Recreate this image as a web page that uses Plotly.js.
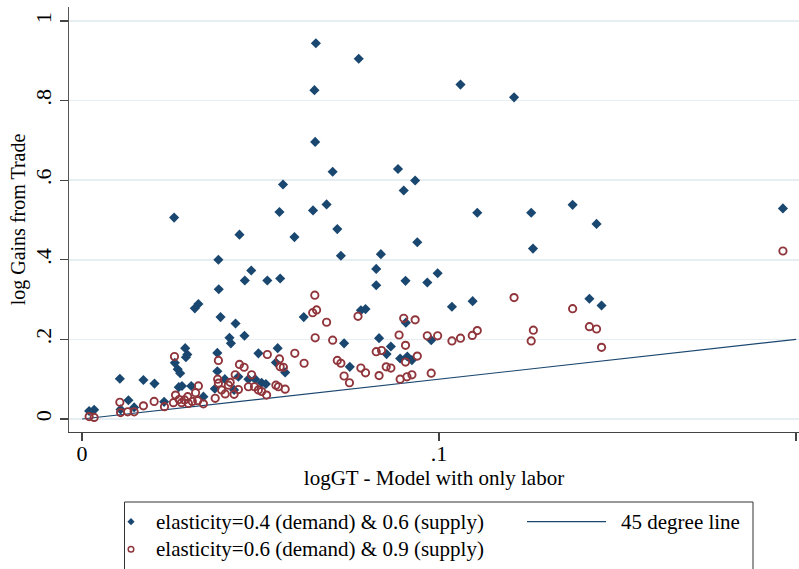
<!DOCTYPE html>
<html>
<head>
<meta charset="utf-8">
<script src="https://cdn.plot.ly/plotly-3.0.1.min.js"></script>
<style>html,body{margin:0;padding:0;background:#fff;}#chart{width:799px;height:569px;}</style>
</head>
<body>
<div id="chart"></div>
<script>
// elasticity=0.4 (demand) & 0.6 (supply)
const blueX = [0.0020,0.0034,0.0106,0.0108,0.0130,0.0146,0.0172,0.0203,0.0230,0.0258,0.0260,0.0268,0.0275,0.0271,0.0280,0.0289,0.0295,0.0291,0.0306,0.0316,0.0326,0.0340,0.0372,0.0379,0.0379,0.0382,0.0383,0.0388,0.0400,0.0413,0.0417,0.0426,0.0430,0.0438,0.0441,0.0455,0.0456,0.0466,0.0474,0.0485,0.0494,0.0503,0.0515,0.0519,0.0543,0.0548,0.0553,0.0555,0.0563,0.0569,0.0595,0.0621,0.0647,0.0651,0.0653,0.0655,0.0685,0.0702,0.0715,0.0725,0.0734,0.0750,0.0775,0.0781,0.0794,0.0824,0.0824,0.0832,0.0837,0.0853,0.0865,0.0885,0.0891,0.0901,0.0906,0.0907,0.0911,0.0924,0.0933,0.0939,0.0967,0.0978,0.0996,0.1036,0.1060,0.1094,0.1107,0.1210,0.1258,0.1263,0.1374,0.1421,0.1441,0.1455,0.1963];
const blueY = [0.020,0.023,0.101,0.024,0.047,0.029,0.098,0.089,0.043,0.506,0.141,0.125,0.115,0.080,0.083,0.178,0.162,0.155,0.083,0.278,0.289,0.056,0.076,0.166,0.120,0.400,0.326,0.256,0.100,0.204,0.190,0.073,0.240,0.106,0.463,0.209,0.348,0.100,0.373,0.100,0.165,0.091,0.088,0.348,0.142,0.178,0.520,0.353,0.589,0.117,0.457,0.256,0.524,0.826,0.696,0.944,0.539,0.621,0.477,0.410,0.190,0.131,0.905,0.273,0.276,0.377,0.336,0.203,0.414,0.163,0.182,0.628,0.152,0.574,0.347,0.242,0.157,0.148,0.599,0.444,0.343,0.198,0.366,0.282,0.840,0.296,0.518,0.808,0.518,0.428,0.538,0.302,0.490,0.285,0.529];

// elasticity=0.6 (demand) & 0.9 (supply)
const redX = [0.0020,0.0034,0.0106,0.0108,0.0128,0.0146,0.0172,0.0202,0.0231,0.0256,0.0259,0.0262,0.0272,0.0279,0.0287,0.0296,0.0298,0.0309,0.0318,0.0324,0.0326,0.0340,0.0373,0.0380,0.0382,0.0382,0.0391,0.0401,0.0410,0.0415,0.0426,0.0429,0.0438,0.0441,0.0454,0.0466,0.0475,0.0483,0.0494,0.0503,0.0517,0.0519,0.0543,0.0550,0.0553,0.0555,0.0564,0.0569,0.0596,0.0622,0.0646,0.0652,0.0653,0.0657,0.0685,0.0702,0.0715,0.0725,0.0734,0.0749,0.0773,0.0781,0.0794,0.0824,0.0832,0.0839,0.0852,0.0865,0.0888,0.0891,0.0901,0.0906,0.0906,0.0910,0.0924,0.0933,0.0939,0.0967,0.0978,0.0996,0.1036,0.1060,0.1093,0.1107,0.1210,0.1258,0.1264,0.1374,0.1421,0.1441,0.1455,0.1963];
const redY = [0.006,0.004,0.042,0.016,0.018,0.018,0.033,0.044,0.031,0.041,0.157,0.060,0.049,0.041,0.048,0.056,0.039,0.044,0.066,0.046,0.083,0.038,0.052,0.100,0.147,0.090,0.073,0.063,0.085,0.092,0.062,0.111,0.074,0.137,0.130,0.081,0.111,0.081,0.073,0.069,0.060,0.162,0.085,0.081,0.151,0.131,0.130,0.075,0.165,0.140,0.267,0.311,0.204,0.274,0.243,0.198,0.147,0.140,0.108,0.091,0.258,0.128,0.116,0.169,0.109,0.172,0.131,0.128,0.211,0.100,0.253,0.185,0.143,0.106,0.111,0.249,0.158,0.209,0.115,0.209,0.196,0.203,0.210,0.222,0.305,0.196,0.223,0.277,0.232,0.226,0.180,0.422];

// 45 degree line
const lineX = [0, 0.2];
const lineY = [0, 0.2];

const yTickVals = [0, 0.2, 0.4, 0.6, 0.8, 1];
const yTickText = ["0", ".2", ".4", ".6", ".8", "1"];
const xTickVals = [0, 0.1, 0.2];
const xTickText = ["0", ".1", ".2"];

const legendLabels = ["elasticity=0.4 (demand) & 0.6 (supply)", "elasticity=0.6 (demand) & 0.9 (supply)", "45 degree line"];

const serif = "Liberation Serif, Times New Roman, serif";
const navy = "#1a476f";
const maroon = "#90353b";

const W = 799, H = 569;
const M = {l: 69, r: 0, t: 7, b: 137};
const PW = W - M.l - M.r, PH = H - M.t - M.b;
const px = v => (v - M.l) / PW;          // pixel x -> paper x
const py = v => (H - M.b - v) / PH;      // pixel y -> paper y

const traces = [
  {x: lineX, y: lineY, type: "scatter", mode: "lines", name: legendLabels[2],
   line: {color: navy, width: 1.2}, showlegend: false, hoverinfo: "skip"},
  {x: blueX, y: blueY, type: "scatter", mode: "markers", name: legendLabels[0],
   marker: {symbol: "diamond", size: 7.8, color: navy, line: {width: 0}}, showlegend: false},
  {x: redX, y: redY, type: "scatter", mode: "markers", name: legendLabels[1],
   marker: {symbol: "circle-open", size: 7.3, color: maroon, line: {width: 1.9, color: maroon}}, showlegend: false}
];

// Legend (drawn as a framed key below the plot)
const row1 = py(521.7), row2 = py(549.3);
const shapes = [
  {type: "rect", xref: "paper", yref: "paper", x0: px(124.5), x1: px(753), y0: py(502), y1: py(580),
   line: {color: "#333", width: 1}, fillcolor: "rgba(0,0,0,0)"},
  {type: "path", xref: "paper", yref: "paper", xsizemode: "pixel", ysizemode: "pixel",
   xanchor: px(131), yanchor: row1, path: "M 0 3.6 L 3.6 0 L 0 -3.6 L -3.6 0 Z",
   fillcolor: navy, line: {width: 0}},
  {type: "circle", xref: "paper", yref: "paper", xsizemode: "pixel", ysizemode: "pixel",
   xanchor: px(131), yanchor: row2, x0: -2.8, x1: 2.8, y0: -2.8, y1: 2.8,
   fillcolor: "rgba(0,0,0,0)", line: {color: maroon, width: 1.5}},
  {type: "line", xref: "paper", yref: "paper", x0: px(527), x1: px(606), y0: row1, y1: row1,
   line: {color: navy, width: 1.2}}
];
const annotations = [
  {xref: "paper", yref: "paper", x: px(154), y: row1, xanchor: "left", yanchor: "middle", showarrow: false,
   text: legendLabels[0], font: {family: serif, size: 21, color: "#000"}},
  {xref: "paper", yref: "paper", x: px(154), y: row2, xanchor: "left", yanchor: "middle", showarrow: false,
   text: legendLabels[1], font: {family: serif, size: 21, color: "#000"}},
  {xref: "paper", yref: "paper", x: px(619), y: row1, xanchor: "left", yanchor: "middle", showarrow: false,
   text: legendLabels[2], font: {family: serif, size: 21, color: "#000"}}
];

const layout = {
  width: W, height: H,
  margin: M,
  paper_bgcolor: "#fff", plot_bgcolor: "#fff",
  font: {family: serif, size: 21, color: "#000"},
  showlegend: false,
  xaxis: {
    range: [-0.00364, 0.2008], tickmode: "array", tickvals: xTickVals, ticktext: xTickText,
    showgrid: false, zeroline: false, showline: true, linecolor: "#444", linewidth: 1.3,
    ticks: "outside", ticklen: 8, tickcolor: "#444", tickwidth: 1.3, ticklabelstandoff: -7,
    tickfont: {family: serif, size: 22, color: "#000"},
    title: {text: "logGT - Model with only labor", font: {family: serif, size: 21, color: "#000"}, standoff: 2}
  },
  yaxis: {
    range: [-0.0327, 1.035], tickmode: "array", tickvals: yTickVals, ticktext: yTickText,
    showgrid: true, gridcolor: "#e7eef2", gridwidth: 1.5, zeroline: false,
    showline: true, linecolor: "#555", linewidth: 1.3,
    ticks: "outside", ticklen: 8, tickcolor: "#444", tickwidth: 1.3, tickangle: -90,
    tickfont: {family: serif, size: 22, color: "#000"},
    title: {text: "log Gains from Trade", font: {family: serif, size: 20, color: "#000"}, standoff: 0}
  },
  shapes: shapes,
  annotations: annotations
};

Plotly.newPlot("chart", traces, layout, {displayModeBar: false, staticPlot: true});
</script>
</body>
</html>
